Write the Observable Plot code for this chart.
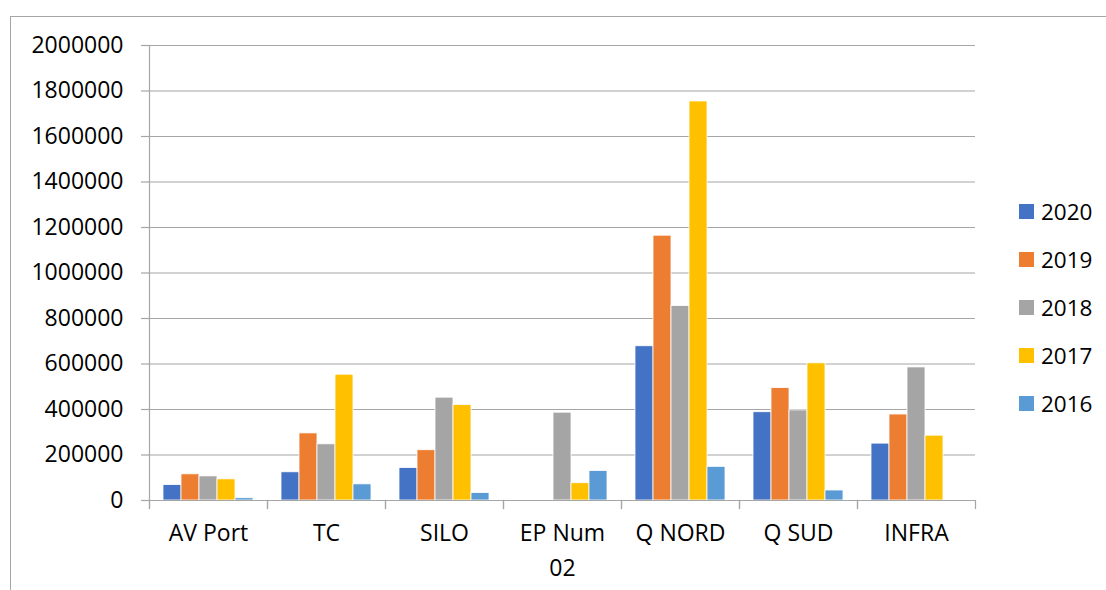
<!DOCTYPE html>
<html>
<head>
<meta charset="utf-8">
<script src="https://cdn.jsdelivr.net/npm/d3@7"></script>
<script src="https://cdn.jsdelivr.net/npm/@observablehq/plot@0.6"></script>
<style>
  html, body { margin: 0; padding: 0; background: #fff; }
  #wrap { position: relative; width: 1106px; height: 590px; overflow: hidden; font-family: "Open Sans", sans-serif; }
  #border { position: absolute; left: 10px; top: 16px; width: 1300px; height: 800px; border: 1.5px solid #a6a6a6; box-sizing: border-box; pointer-events: none; }
  #chart { position: absolute; left: 0; top: 0; }
  #legend { position: absolute; left: 0; top: 0; }
  .item { position: absolute; display: flex; align-items: center; height: 30px; font-size: 22.5px; color: #000; }
  .sw { width: 15px; height: 15px; margin-right: 7px; }
</style>
</head>
<body>
<div id="wrap">
  <div id="border"></div>
  <div id="chart"></div>
  <div id="legend"></div>
</div>
<script>
// ---- data ----
const categories = ["AV Port", "TC", "SILO", "EP Num 02", "Q NORD", "Q SUD", "INFRA"];
const years = ["2020", "2019", "2018", "2017", "2016"];
const v2020 = [68000, 124000, 143000, 0, 678000, 388000, 250000];
const v2019 = [115000, 295000, 221000, 0, 1164000, 494000, 378000];
const v2018 = [106000, 247000, 452000, 386000, 855000, 396000, 585000];
const v2017 = [93000, 553000, 420000, 76000, 1754000, 603000, 285000];
const v2016 = [10000, 71000, 33000, 130000, 148000, 44000, 0];
const yTicks = [0, 200000, 400000, 600000, 800000, 1000000, 1200000, 1400000, 1600000, 1800000, 2000000];
const categoryLabels = ["AV Port", "TC", "SILO", "EP Num\n02", "Q NORD", "Q SUD", "INFRA"];
const colors = ["#4472C4", "#ED7D31", "#A5A5A5", "#FFC000", "#5B9BD5"];

const series = [v2020, v2019, v2018, v2017, v2016];
const table = [];
categories.forEach((cat, ci) => {
  years.forEach((yr, yi) => table.push({cat, year: yr, value: series[yi][ci]}));
});

// ---- layout ----
const W = 1106, H = 590, mL = 148, mR = 131, mT = 45, mB = 90;
const plotH = H - mT - mB;
const axisGray = "#a6a6a6";

const chart = Plot.plot({
  width: W, height: H,
  marginLeft: mL, marginRight: mR, marginTop: mT, marginBottom: mB,
  style: { fontFamily: '"Open Sans", sans-serif', fontSize: "23px", color: "#000", background: "transparent", overflow: "visible" },
  fx: { domain: categories, padding: 0, label: null, axis: null },
  x: { domain: years, paddingInner: 0, paddingOuter: 0.74, axis: null },
  y: { domain: [0, 2000000], label: null },
  color: { domain: years, range: colors },
  marks: [
    Plot.gridY(yTicks, { stroke: axisGray, strokeOpacity: 1, strokeWidth: 1.2 }),
    Plot.barY(table, { fx: "cat", x: "year", y: "value", fill: "year", stroke: "white", strokeWidth: 0.8 }),
    Plot.ruleY([0], { stroke: axisGray, strokeWidth: 1.2 }),
    Plot.frame({ anchor: "left", stroke: axisGray, strokeWidth: 1.2, insetTop: plotH, insetBottom: -8 }),
    Plot.frame({ anchor: "right", stroke: axisGray, strokeWidth: 1.2, insetTop: plotH, insetBottom: -8 }),
    Plot.frame({ anchor: "left", facet: "super", stroke: axisGray, strokeWidth: 1.2, insetBottom: -8 }),
    Plot.axisY(yTicks, { tickSize: 8, tickPadding: 18, tickFormat: d => String(d), stroke: axisGray, strokeWidth: 1.2, fill: "#000", fontSize: 23, label: null }),
    Plot.axisFx({ anchor: "bottom", tickSize: 0, tickPadding: 16, tickFormat: d => categoryLabels[categories.indexOf(d)], lineHeight: 1.52, fill: "#000", fontSize: 23, label: null })
  ]
});
document.getElementById("chart").appendChild(chart);

// ---- legend ----
const legend = document.getElementById("legend");
years.forEach((yr, i) => {
  const it = document.createElement("div");
  it.className = "item";
  it.style.left = "1019px";
  it.style.top = (211 + 48 * i - 15) + "px";
  it.innerHTML = `<div class="sw" style="background:${colors[i]}"></div><span>${yr}</span>`;
  legend.appendChild(it);
});
</script>
</body>
</html>
